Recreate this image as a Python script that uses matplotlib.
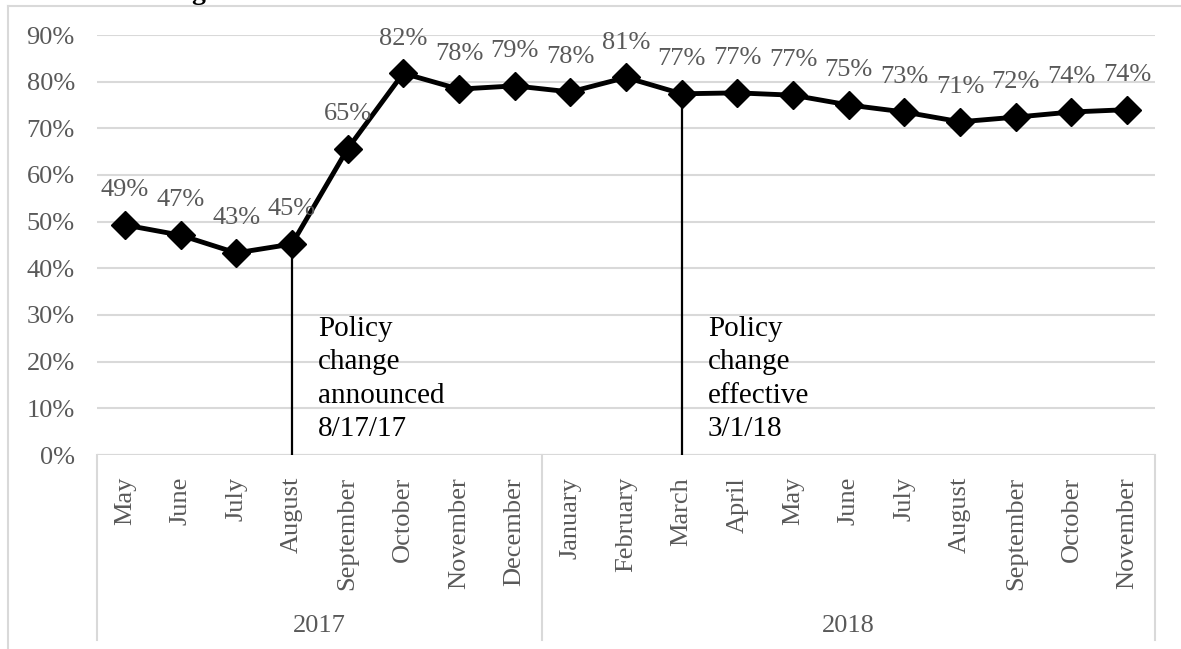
import numpy as np
import matplotlib
matplotlib.use('Agg')
import matplotlib.pyplot as plt
from matplotlib.lines import Line2D

plt.rcParams['font.family'] = ['Liberation Serif', 'DejaVu Serif']

months = ['May', 'June', 'July', 'August', 'September', 'October', 'November', 'December',
          'January', 'February', 'March', 'April', 'May', 'June', 'July', 'August',
          'September', 'October', 'November']
years = ['2017', '2018']
year_counts = [8, 11]
values = [0.493, 0.471, 0.433, 0.452, 0.656, 0.818, 0.784, 0.791, 0.778, 0.809, 0.774,
          0.776, 0.771, 0.750, 0.735, 0.714, 0.724, 0.735, 0.740]
labels = ['49%', '47%', '43%', '45%', '65%', '82%', '78%', '79%', '78%', '81%', '77%',
          '77%', '77%', '75%', '73%', '71%', '72%', '74%', '74%']
events = [(3, 'Policy\nchange\nannounced\n8/17/17'),
          (10, 'Policy\nchange\neffective\n3/1/18')]

W, H = 1181, 649
fig = plt.figure(figsize=(W / 100, H / 100), dpi=100)

# plot area in pixels
left, right, top, bottom = 97, 1155, 35, 455
ax = fig.add_axes([left / W, 1 - bottom / H, (right - left) / W, (bottom - top) / H])
px = 0.9 / (bottom - top)  # data units per pixel on y

gray = '#595959'
grid = '#d9d9d9'
fs = 19
x = np.arange(len(values))

ax.set_xlim(-0.5, len(values) - 0.5)
ax.set_ylim(0, 0.9)
ticks = np.arange(0, 0.91, 0.1)
ax.set_yticks(ticks)
ax.set_yticklabels([f'{int(round(t * 100))}%' for t in ticks], color=gray, fontsize=fs)
ax.tick_params(axis='y', length=0, pad=16)
ax.set_xticks([])
for s in ax.spines.values():
    s.set_visible(False)
ax.yaxis.grid(True, color=grid, linewidth=1.5)
ax.set_axisbelow(True)
ax.axhline(0, color=grid, linewidth=1.5, zorder=1)

# event lines and notes
for i, txt in events:
    ax.plot([i, i], [0, values[i]], color='black', linewidth=1.6, zorder=2)
    ax.text(i + 0.47, 0.294 + 2 * px, txt, fontsize=21, color='black', va='top', ha='left',
            linespacing=1.37)

ax.plot(x, values, color='black', linewidth=3.5, marker='D', markersize=14, zorder=3)

for xi, v, lab in zip(x, values, labels):
    ax.annotate(lab, (xi, v), xytext=(0, 25), textcoords='offset points',
                ha='center', va='center', fontsize=fs, color=gray)

# category labels and year groups below the axis
for xi, m in zip(x, months):
    ax.text(xi, -22 * px, m, rotation=90, ha='center', va='top', fontsize=fs, color=gray)

seps = np.concatenate([[0], np.cumsum(year_counts)]) - 0.5
for s in seps:
    ax.add_line(Line2D([s, s], [0, -(640 - bottom) * px], color=grid, linewidth=1.5,
                       clip_on=False))
for k, yr in enumerate(years):
    ax.text((seps[k] + seps[k + 1]) / 2, -(626 - bottom) * px, yr,
            ha='center', va='center', fontsize=fs, color=gray)

# chart frame and clipped title
fig.add_artist(Line2D([8 / W, 8 / W], [0, 1 - 6 / H], color=grid, linewidth=1.5))
fig.add_artist(Line2D([8 / W, 1], [1 - 6 / H, 1 - 6 / H], color=grid, linewidth=1.5))
fig.text(198 / W, 1 + 1 / H, 'g', fontsize=20, fontweight='bold', ha='center', va='baseline')

fig.savefig('out.png', dpi=100)
